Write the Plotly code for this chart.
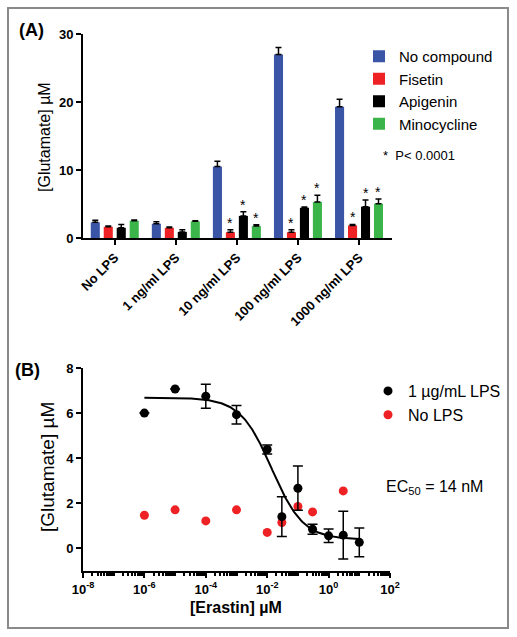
import numpy as np
import plotly.graph_objects as go

W, H = 517, 637
FONT = "Arial, Liberation Sans, sans-serif"

# ---------------- Panel A data ----------------
categories = ["No LPS", "1 ng/ml LPS", "10 ng/ml LPS", "100 ng/ml LPS", "1000 ng/ml LPS"]
series_names = ["No compound", "Fisetin", "Apigenin", "Minocycline"]
no_compound = [2.3, 2.1, 10.5, 27.0, 19.3]
no_compound_err = [0.3, 0.3, 0.8, 1.0, 1.1]
fisetin = [1.65, 1.5, 0.85, 0.85, 1.85]
fisetin_err = [0.1, 0.1, 0.35, 0.35, 0.15]
apigenin = [1.5, 0.9, 3.25, 4.45, 4.6]
apigenin_err = [0.5, 0.3, 0.6, 0.1, 1.0]
minocycline = [2.55, 2.45, 1.75, 5.3, 5.05]
minocycline_err = [0.1, 0.1, 0.2, 1.0, 0.7]
no_compound_sig = [False, False, False, False, False]
fisetin_sig = [False, False, True, True, True]
apigenin_sig = [False, False, True, True, True]
minocycline_sig = [False, False, True, True, True]
series_colors = ["#3A55A6", "#EE2224", "#000000", "#3BB54A"]

# ---------------- Panel B data ----------------
erastin_lps = [1e-6, 1e-5, 1e-4, 1e-3, 1e-2, 0.03, 0.1, 0.3, 1, 3, 10]
glut_lps = [6.0, 7.07, 6.75, 5.93, 4.39, 1.41, 2.67, 0.85, 0.56, 0.59, 0.27]
glut_lps_err = [0, 0, 0.53, 0.41, 0.2, 0.88, 0.98, 0.22, 0.3, 1.06, 0.64]
erastin_nolps = [1e-6, 1e-5, 1e-4, 1e-3, 1e-2, 0.03, 0.1, 0.3, 3]
glut_nolps = [1.47, 1.71, 1.22, 1.71, 0.71, 1.15, 1.86, 1.62, 2.55]
# four-parameter logistic fit parameters (EC50 = 14 nM)
fit_top, fit_bottom, fit_log_ec50, fit_hill = 6.68, 0.40, np.log10(0.014), 0.85

x_tick_exponents = [-8, -6, -4, -2, 0, 2]


def px_x(p):
    return p / W


def px_y(p):
    return 1 - p / H


fig = go.Figure()

vals = [no_compound, fisetin, apigenin, minocycline]
errs = [no_compound_err, fisetin_err, apigenin_err, minocycline_err]
sigs = [no_compound_sig, fisetin_sig, apigenin_sig, minocycline_sig]

for name, v, e, c in zip(series_names, vals, errs, series_colors):
    fig.add_trace(go.Bar(
        x=categories, y=v, name=name, marker=dict(color=c, line=dict(width=0)),
        error_y=dict(type="data", array=e, arrayminus=[0] * len(e), symmetric=False,
                     color="black", thickness=1.5, width=3),
        xaxis="x", yaxis="y", legend="legend",
    ))

# Panel B
xs = np.logspace(-6, 1, 300)
fit_curve = fit_bottom + (fit_top - fit_bottom) / (1 + 10 ** ((np.log10(xs) - fit_log_ec50) * fit_hill))
fig.add_trace(go.Scatter(x=xs, y=fit_curve, mode="lines", line=dict(color="black", width=2),
                         showlegend=False, xaxis="x2", yaxis="y2", hoverinfo="skip"))
fig.add_trace(go.Scatter(x=erastin_nolps, y=glut_nolps, mode="markers", name="No LPS",
                         marker=dict(color="#EE2224", size=9), xaxis="x2", yaxis="y2",
                         legend="legend2"))
fig.add_trace(go.Scatter(x=erastin_lps, y=glut_lps, mode="markers", name="1 \u00b5g/mL LPS",
                         marker=dict(color="black", size=9),
                         error_y=dict(type="data", array=glut_lps_err, color="black",
                                      thickness=1.5, width=5),
                         xaxis="x2", yaxis="y2", legend="legend2"))

bargap = 0.15
pitch = (1 - bargap) / 4
annotations = []
for j, (v, e, s) in enumerate(zip(vals, errs, sigs)):
    for i in range(len(categories)):
        if s[i]:
            annotations.append(dict(x=i + (j - 1.5) * pitch, y=v[i] + e[i], xref="x", yref="y",
                                    text="*", showarrow=False, xanchor="center",
                                    yanchor="middle", yshift=7,
                                    font=dict(size=14, color="black", family=FONT)))


def label(x, y, text, size, angle=0, anchor="center"):
    return dict(x=px_x(x), y=px_y(y), xref="paper", yref="paper", text=text, showarrow=False,
                xanchor=anchor, yanchor="middle", textangle=angle,
                font=dict(size=size, color="black", family=FONT))


annotations += [
    label(31, 30, "<b>(A)</b>", 18),
    label(27, 370, "<b>(B)</b>", 18),
    label(45, 137, "[Glutamate] \u00b5M", 16, angle=-90),
    label(47, 467, "[Glutamate] \u00b5M", 19, angle=-90),
    label(236, 607, "<b>[Erastin] \u00b5M</b>", 16),
    label(381, 155, "*  P< 0.0001", 13, anchor="left"),
    label(384, 487, "EC<sub>50</sub> = 14 nM", 16, anchor="left"),
]

axis_common = dict(showline=True, linecolor="black", linewidth=2, ticks="outside",
                   ticklen=5, tickwidth=2, tickcolor="black", showgrid=False, zeroline=False,
                   automargin=False,
                   tickfont=dict(size=13, color="black", family=FONT, weight="bold"))

major_vals = [10.0 ** k for k in x_tick_exponents]
major_text = [f"10<sup>{k}</sup>" for k in x_tick_exponents]
minor_vals = [m * 10.0 ** k for k in range(-8, 2) for m in range(2, 11)
              if not (m == 10 and (k + 1) in x_tick_exponents)]

fig.update_layout(
    template="none",
    width=W, height=H, margin=dict(l=0, r=0, t=0, b=0, autoexpand=False),
    paper_bgcolor="white", plot_bgcolor="white",
    font=dict(family=FONT, color="black"),
    barmode="group", bargap=bargap, bargroupgap=0.3,
    xaxis=dict(domain=[px_x(83), px_x(392)], anchor="y", type="category",
               range=[-0.52, 4.54], tickangle=-45, **axis_common),
    yaxis=dict(domain=[px_y(238), px_y(34)], anchor="x", range=[0, 30],
               tickvals=[0, 10, 20, 30], **axis_common),
    xaxis2=dict(domain=[px_x(83), px_x(390)], anchor="y2", type="log", range=[-8, 2],
                tickvals=major_vals, ticktext=major_text,
                minor=dict(tickvals=minor_vals, ticks="outside", ticklen=3, tickwidth=1.5,
                           tickcolor="black"),
                **axis_common),
    yaxis2=dict(domain=[px_y(571), px_y(368)], anchor="x2", range=[-1, 8],
                tickvals=[0, 2, 4, 6, 8], **axis_common),
    legend=dict(x=px_x(359), y=px_y(40), xanchor="left", yanchor="top",
                font=dict(size=15, family=FONT, color="black"), bgcolor="rgba(0,0,0,0)",
                traceorder="normal"),
    legend2=dict(x=px_x(368), y=px_y(374), xanchor="left", yanchor="top",
                 font=dict(size=16, family=FONT, color="black"), bgcolor="rgba(0,0,0,0)",
                 traceorder="reversed"),
    annotations=annotations,
    shapes=[dict(type="rect", xref="paper", yref="paper", x0=px_x(8), x1=px_x(508),
                 y0=px_y(628), y1=px_y(8), line=dict(color="#8a8a8a", width=2))],
)

fig.write_html("out.html", config={"displayModeBar": False},
               post_script="document.body.style.margin='0';")
